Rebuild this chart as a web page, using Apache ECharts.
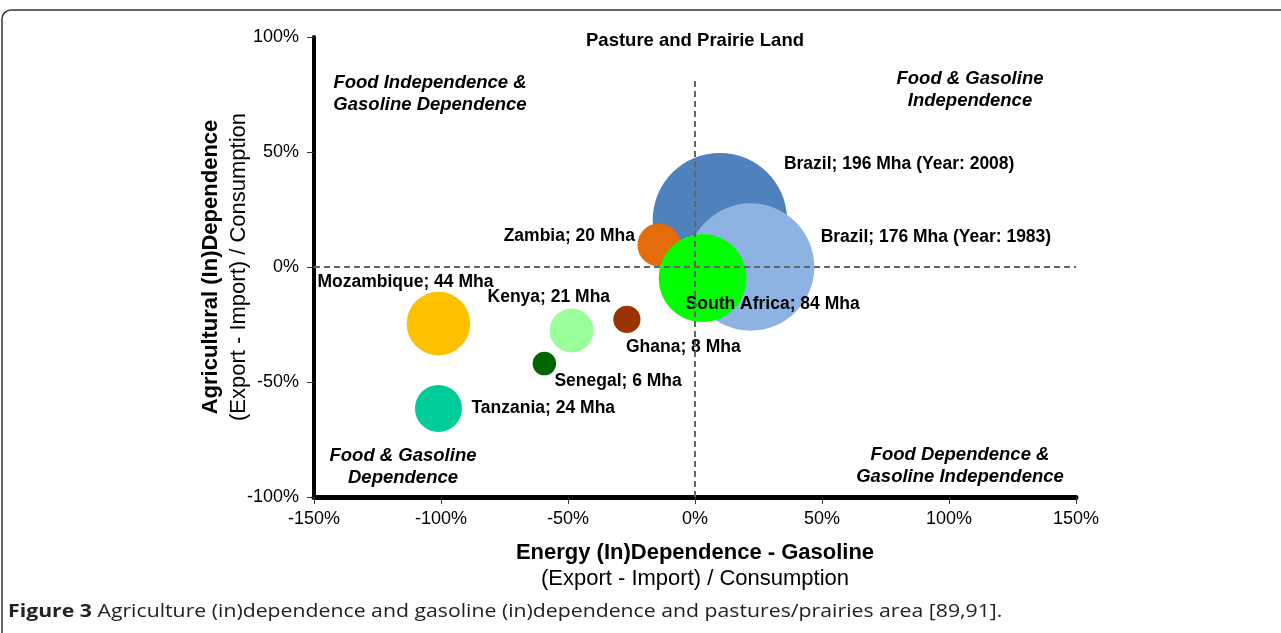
<!DOCTYPE html>
<html>
<head>
<meta charset="utf-8">
<script src="https://cdn.jsdelivr.net/npm/echarts@6/dist/echarts.min.js"></script>
<style>
  html, body { margin: 0; padding: 0; background: #fff; }
  #chart { width: 1281px; height: 633px; }
</style>
</head>
<body>
<div id="chart"></div>
<script>
// pasture / prairie land by country
const countries = ['Brazil', 'Brazil', 'Zambia', 'South Africa', 'Mozambique', 'Kenya', 'Ghana', 'Senegal', 'Tanzania'];
const years = ['2008', '1983', '', '', '', '', '', '', ''];
const gasolineDep = [9.8, 21.9, -14.2, 3, -101, -48.6, -26.8, -59.3, -101];   // x, %
const agriDep = [20.4, 0, 9.6, -4.8, -24.6, -27.6, -22.8, -42, -61.5];          // y, %
const pastureMha = [196, 176, 20, 84, 44, 21, 8, 6, 24];

const colors = ['#4f81bd', '#8db3e2', '#e46c0a', '#00ff00', '#ffc000', '#99ff99', '#993300', '#006600', '#00cc99'];
// label placement relative to bubble centre [dx, dy, align]
const labelPlace = [
  [64, -56, 'left'], [70, -30, 'left'], [-24, -9, 'right'], [-17, 26, 'left'],
  [-121, -41, 'left'], [-84, -33, 'left'], [-1, 28, 'left'], [10, 18, 'left'], [33, 0, 'left']
];

const font = 'Liberation Sans, Arial, Helvetica, sans-serif';

let chart = echarts.init(document.getElementById('chart'));

let points = countries.map(function (c, i) {
  let text = c + '; ' + pastureMha[i] + ' Mha' + (years[i] ? ' (Year: ' + years[i] + ')' : '');
  return {
    name: text,
    value: [gasolineDep[i], agriDep[i], pastureMha[i]],
    itemStyle: { color: colors[i] },
    label: {
      offset: [labelPlace[i][0], labelPlace[i][1]],
      align: labelPlace[i][2]
    }
  };
});

let quadText = function (x, y, text) {
  return {
    type: 'text', x: x, y: y,
    style: {
      text: text, textAlign: 'center', textVerticalAlign: 'top',
      font: 'italic bold 18.5px ' + font, lineHeight: 22, fill: '#000'
    }
  };
};

chart.setOption({
  animation: false,
  grid: { left: 314, right: 205, top: 37, bottom: 136 },
  xAxis: {
    type: 'value', min: -150, max: 150, interval: 50,
    axisLine: { onZero: false, lineStyle: { color: '#000', width: 5 } },
    axisTick: { show: true, length: 7, lineStyle: { color: '#333', width: 1 } },
    axisLabel: { color: '#000', fontSize: 18, fontFamily: font, margin: 13, formatter: '{value}%' },
    splitLine: { show: false },
    name: '{b|Energy (In)Dependence - Gasoline}\n{n|(Export - Import) / Consumption}',
    nameLocation: 'middle', nameGap: 43, nameMoveOverlap: false,
    nameTextStyle: {
      color: '#000', fontFamily: font,
      rich: {
        b: { fontSize: 22, fontWeight: 'bold', lineHeight: 26, fontFamily: font, color: '#000' },
        n: { fontSize: 22, lineHeight: 26, fontFamily: font, color: '#000' }
      }
    }
  },
  yAxis: {
    type: 'value', min: -100, max: 100, interval: 50,
    axisLine: { onZero: false, lineStyle: { color: '#000', width: 4 } },
    axisTick: { show: true, length: 7, lineStyle: { color: '#333', width: 1 } },
    axisLabel: { color: '#000', fontSize: 18, fontFamily: font, margin: 15, formatter: '{value}%' },
    splitLine: { show: false },
    name: '{b|Agricultural (In)Dependence}\n{n|(Export - Import) / Consumption}',
    nameLocation: 'middle', nameGap: 61, nameMoveOverlap: false,
    nameTextStyle: {
      color: '#000', fontFamily: font,
      rich: {
        b: { fontSize: 22, fontWeight: 'bold', lineHeight: 28, fontFamily: font, color: '#000' },
        n: { fontSize: 22, lineHeight: 28, fontFamily: font, color: '#000' }
      }
    }
  },
  graphic: [
    {
      type: 'rect', x: 2, y: 10, z: -10,
      shape: { x: 0, y: 0, width: 1320, height: 700, r: 9 },
      style: { fill: 'none', stroke: '#333', lineWidth: 1.5 }
    },
    {
      type: 'text', x: 695, y: 41,
      style: {
        text: 'Pasture and Prairie Land', textAlign: 'center', textVerticalAlign: 'middle',
        font: 'bold 18.5px ' + font, fill: '#000'
      }
    },
    quadText(430, 72, 'Food Independence &\nGasoline Dependence'),
    quadText(970, 68, 'Food & Gasoline\nIndependence'),
    quadText(403, 445, 'Food & Gasoline\nDependence'),
    quadText(960, 444, 'Food Dependence &\nGasoline Independence'),
    {
      type: 'text', x: 8, y: 612, scaleX: 1.18,
      style: {
        text: '{b|Figure 3} Agriculture (in)dependence and gasoline (in)dependence and pastures/prairies area [89,91].',
        textVerticalAlign: 'middle',
        font: '18px Open Sans, sans-serif', fill: '#222',
        rich: { b: { font: 'bold 18px Open Sans, sans-serif', fill: '#222' } }
      }
    }
  ],
  series: [
    {
      type: 'line', data: [], z: 1, silent: true,
      markLine: {
        silent: true, symbol: 'none', animation: false,
        label: { show: false },
        lineStyle: { color: '#666', width: 2, type: [6, 4] },
        data: [
          [{ coord: [0, -100] }, { coord: [0, 81] }],
          [{ coord: [-150, 0] }, { coord: [150, 0] }]
        ]
      }
    },
    {
      type: 'scatter', z: 3,
      data: points,
      symbolSize: function (val) { return 9.6 * Math.sqrt(val[2]); },
      itemStyle: { opacity: 1 },
      emphasis: { disabled: true },
      label: {
        show: true, position: 'inside', verticalAlign: 'middle',
        formatter: '{b}', color: '#000', fontSize: 17.5, fontWeight: 'bold', fontFamily: font
      }
    }
  ]
});
</script>
</body>
</html>
